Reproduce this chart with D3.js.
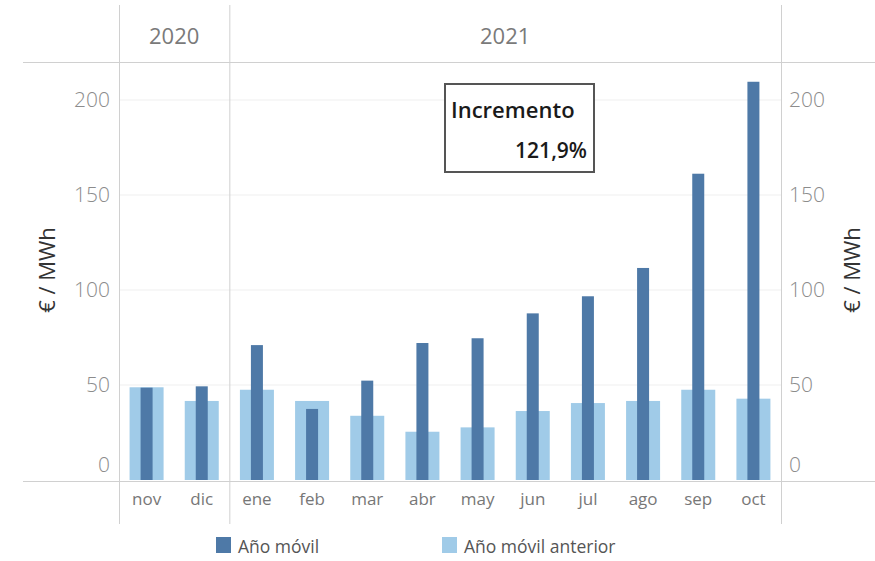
<!DOCTYPE html>
<html><head><meta charset="utf-8">
<script src="https://cdn.jsdelivr.net/npm/d3@7"></script>
<style>
html,body{margin:0;padding:0;background:#fff;}
svg{display:block;font-family:"Open Sans",sans-serif;}
</style></head>
<body><svg id="c" width="875" height="561"></svg>
<script>
const months = ["nov","dic","ene","feb","mar","abr","may","jun","jul","ago","sep","oct"];
const years = [{label:"2020", from:"nov", to:"dic"},{label:"2021", from:"ene", to:"oct"}];
const anioMovil = [48.6, 49.3, 71.0, 37.4, 52.3, 72.1, 74.6, 87.7, 96.7, 111.6, 161.2, 209.6];
const anioMovilAnterior = [48.8, 41.6, 47.5, 41.6, 33.8, 25.4, 27.7, 36.3, 40.5, 41.6, 47.5, 42.8];
const yTicks = [0, 50, 100, 150, 200];
const seriesNames = ["Año móvil", "Año móvil anterior"];
const annotTitle = "Incremento";
const annotValue = "121,9%";
const yTitle = "€ / MWh";

const svg = d3.select("#c");
const colDark = "#4e79a7", colLight = "#a0cbe8";
const L = 119, R = 781, T = 62, B = 481;

const x = d3.scaleBand().domain(months).range([L, R]).paddingInner(0).paddingOuter(0);
const y = d3.scaleLinear().domain([0, 200]).range([B - 1, 100]);
const wLight = 34, wDark = 12;

// gridlines
svg.append("g").selectAll("line").data(yTicks.filter(d => d > 0)).join("line")
  .attr("x1", L).attr("x2", R).attr("y1", d => y(d)).attr("y2", d => y(d))
  .attr("stroke", "#efefef").attr("stroke-width", 1);

// bars
const bars = svg.append("g");
bars.selectAll("rect.l").data(anioMovilAnterior).join("rect").attr("class","l")
  .attr("x", (d,i) => x(months[i]) + x.bandwidth()/2 - wLight/2)
  .attr("width", wLight)
  .attr("y", d => y(d)).attr("height", d => y(0) - y(d))
  .attr("fill", colLight);
bars.selectAll("rect.d").data(anioMovil).join("rect").attr("class","d")
  .attr("x", (d,i) => x(months[i]) + x.bandwidth()/2 - wDark/2)
  .attr("width", wDark)
  .attr("y", d => y(d)).attr("height", d => y(0) - y(d))
  .attr("fill", colDark);

// frame lines
const lc = "#d0d0d0";
svg.append("line").attr("x1", 23).attr("x2", 875).attr("y1", T + 0.5).attr("y2", T + 0.5).attr("stroke", lc);
svg.append("line").attr("x1", 23).attr("x2", 875).attr("y1", B + 0.5).attr("y2", B + 0.5).attr("stroke", lc);
[L, x("ene"), R].forEach(v => {
  svg.append("line").attr("x1", v + 0.5).attr("x2", v + 0.5).attr("y1", 5).attr("y2", 524).attr("stroke", lc);
});

// year headers
years.forEach(yr => {
  const a = x(yr.from), b = x(yr.to) + x.bandwidth();
  svg.append("text").attr("x", (a + b) / 2).attr("y", 44).attr("text-anchor", "middle")
    .attr("font-size", 22).attr("fill", "#7a7a7a").text(yr.label);
});

// y axes
const axL = d3.axisLeft(y).tickValues(yTicks).tickSize(0).tickPadding(9);
const gL = svg.append("g").attr("transform", `translate(${L},0)`).call(axL);
const axR = d3.axisRight(y).tickValues(yTicks).tickSize(0).tickPadding(8);
const gR = svg.append("g").attr("transform", `translate(${R},0)`).call(axR);
[gL, gR].forEach(g => {
  g.select(".domain").remove();
  g.selectAll("text").attr("font-size", 21).attr("fill", "#8c8c8c").attr("font-family", "Open Sans")
    .attr("font-weight", 300)
    .attr("dy", d => d === 0 ? "-0.4em" : "0.32em");
});

// x axis
const axX = d3.axisBottom(x).tickSize(0).tickPadding(12);
const gX = svg.append("g").attr("transform", `translate(0,${B})`).call(axX);
gX.select(".domain").remove();
gX.selectAll("text").attr("font-size", 17).attr("fill", "#777").attr("font-family", "Open Sans");

// axis titles
svg.append("text").attr("transform", "translate(55,270) rotate(-90)").attr("text-anchor", "middle")
  .attr("font-size", 22).attr("fill", "#333").text(yTitle);
svg.append("text").attr("transform", "translate(860,270) rotate(-90)").attr("text-anchor", "middle")
  .attr("font-size", 22).attr("fill", "#333").text(yTitle);

// annotation
svg.append("rect").attr("x", 445).attr("y", 84).attr("width", 149).attr("height", 88)
  .attr("fill", "#fff").attr("stroke", "#555").attr("stroke-width", 2);
svg.append("text").attr("x", 451).attr("y", 118).attr("font-size", 22).attr("font-weight", 600)
  .attr("fill", "#1a1a1a").text(annotTitle);
svg.append("text").attr("x", 587).attr("y", 158).attr("text-anchor", "end").attr("font-size", 21)
  .attr("font-weight", 600).attr("fill", "#1a1a1a").text(annotValue);

// legend
const leg = [{name: seriesNames[0], c: colDark, x: 216}, {name: seriesNames[1], c: colLight, x: 442}];
leg.forEach(l => {
  svg.append("rect").attr("x", l.x).attr("y", 537).attr("width", 15).attr("height", 16).attr("fill", l.c);
  svg.append("text").attr("x", l.x + 22).attr("y", 553).attr("font-size", 17.5).attr("fill", "#555").text(l.name);
});
</script></body></html>
